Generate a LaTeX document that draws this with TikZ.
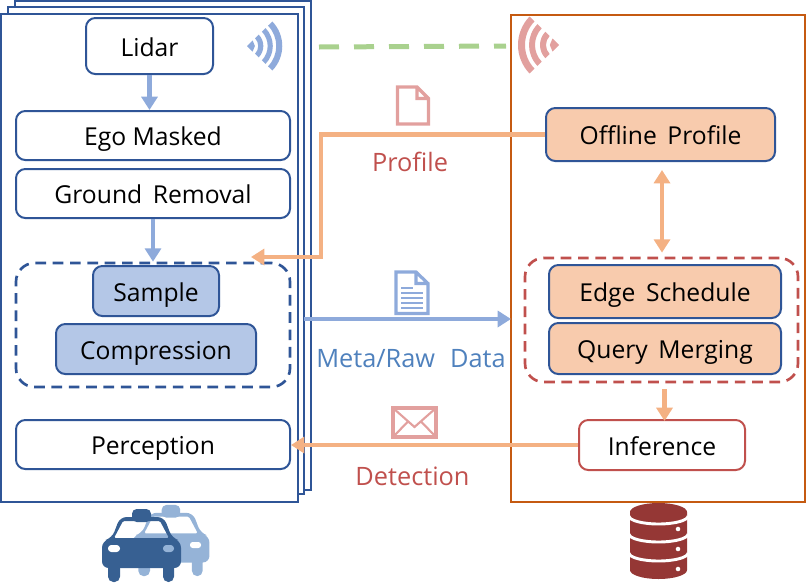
\documentclass[tikz,border=0pt]{standalone}
\usepackage{fontspec}
\setmainfont{Open Sans}
\usetikzlibrary{arrows.meta,calc}
\definecolor{navy}{HTML}{2F5597}
\definecolor{orangeline}{HTML}{C55A11}
\definecolor{softblue}{HTML}{8EAADB}
\definecolor{softorange}{HTML}{F4B183}
\definecolor{fillblue}{HTML}{B4C7E7}
\definecolor{fillorange}{HTML}{F8CBAD}
\definecolor{redline}{HTML}{C0504D}
\definecolor{softred}{HTML}{E2A09E}
\definecolor{softgreen}{HTML}{A9D18E}
\definecolor{textblue}{HTML}{4F81BD}
\definecolor{cardark}{HTML}{376092}
\definecolor{carlight}{HTML}{95B3D7}
\definecolor{dbred}{HTML}{953735}
\tikzset{
  x=0.75pt,y=-0.75pt,
  lab/.style={font=\fontsize{18.5pt}{22pt}\selectfont,text height=15.5pt,text depth=0.5pt},
  box/.style={draw=navy,line width=1.5pt,rounded corners=7pt,fill=white,inner sep=0pt,lab},
  bluebox/.style={box,fill=fillblue},
  orangebox/.style={box,fill=fillorange},
  redbox/.style={box,draw=redline},
  group/.style={rounded corners=14pt,line width=2pt,dash pattern=on 8pt off 5pt,inner sep=0pt},
  sheet/.style={draw=navy,line width=1.5pt,fill=white},
  bluearrow/.style={draw=softblue,line width=3.6pt,-{Triangle[length=10pt,width=12pt]}},
  orangearrow/.style={draw=softorange,line width=3.6pt,-{Triangle[length=10pt,width=12pt]}},
  orangedouble/.style={draw=softorange,line width=3.6pt,{Triangle[length=10pt,width=12pt]}-{Triangle[length=10pt,width=12pt]}},
  caption/.style={font=\fontsize{19pt}{22pt}\selectfont,text height=14.5pt,text depth=0.5pt,inner sep=0pt},
}
\newcommand{\wifi}[5]{% apex x, apex y, direction angle, scale, colour
  \begin{scope}[shift={(#1,#2)},rotate=#3,scale=#4]
    \fill[#5] (0,0) -- (6.5,-6.5) -- (9.2,0) -- (6.5,6.5) -- cycle;
    \foreach \ri/\ro in {13/19,24/30,34/41}{
      \fill[#5] (-44:\ri) arc[start angle=-44,end angle=44,radius=\ri] -- (44:\ro) arc[start angle=44,end angle=-44,radius=\ro] -- cycle;
    }
  \end{scope}}
% car drawn in the coordinates of the front car; #1 #2 shift, #3 scale, #4 colour
\newcommand{\car}[4]{%
  \begin{scope}[shift={(#1,#2)},scale=#3]
    \fill[#4,rounded corners=4pt] (108,555) rectangle (120,582);
    \fill[#4,rounded corners=4pt] (163,555) rectangle (174,582);
    \fill[#4,rounded corners=3.5pt] (132,509) rectangle (151,522);
    \fill[#4,even odd rule,rounded corners=5pt]
      (102,568) -- (102,541) -- (112,538) -- (120,517) -- (164,517) -- (172,538) -- (181,541) -- (181,568) -- cycle
      [rounded corners=1pt] (114,538) -- (123,521) -- (160,521) -- (169,538) -- cycle;
  \end{scope}}
\begin{document}
\begin{tikzpicture}
\useasboundingbox (0,0) rectangle (811,586);
% stacked sheets
\draw[sheet] (15,1) rectangle (311,490);
\draw[sheet] (8,7) rectangle (304,494);
\node[sheet,minimum width=222.75pt,minimum height=366pt,inner sep=0pt] (carsheet) at (149.5,258) {};
% server panel
\node[draw=orangeline,line width=1.5pt,minimum width=220.5pt,minimum height=365.25pt,inner sep=0pt] (server) at (658,258.5) {};
% groups
\node[group,draw=navy,minimum width=205.5pt,minimum height=93pt] (leftgroup) at (153,325) {};
\node[group,draw=redline,minimum width=204.75pt,minimum height=93pt] (rightgroup) at (661.5,320) {};
% boxes
\node[box,minimum width=95.25pt,minimum height=42pt] (lidar) at (149.5,46) {Lidar};
\node[box,minimum width=205.5pt,minimum height=36.75pt] (ego) at (153,135.5) {Ego Masked};
\node[box,minimum width=205.5pt,minimum height=36.75pt] (ground) at (153,193.5) {Ground\, Removal};
\node[bluebox,minimum width=94.5pt,minimum height=37.5pt] (sample) at (156,291) {Sample};
\node[bluebox,minimum width=150pt,minimum height=37.5pt] (compress) at (156,349) {Compression};
\node[box,minimum width=205.5pt,minimum height=36.75pt] (percept) at (153,444.5) {Perception};
\node[orangebox,minimum width=171.75pt,minimum height=39.75pt] (offline) at (660.5,134.5) {Offline\, Profile};
\node[orangebox,minimum width=174pt,minimum height=39.75pt] (edge) at (665,291.5) {Edge\, Schedule};
\node[orangebox,minimum width=174pt,minimum height=38.25pt] (query) at (665,348.5) {Query\, Merging};
\node[redbox,minimum width=124.5pt,minimum height=37.5pt] (infer) at (662,445) {Inference};
% coordinates
\coordinate (gl) at (319,47);
\coordinate (gr) at (506,46);
\coordinate (corner2) at (321,257);
\coordinate (tipL) at (251,257);
\coordinate (metaS) at (304,319);
\coordinate (metaE) at (511,319);
% connectors
\draw[softgreen,line width=3.75pt,dash pattern=on 15pt off 11.25pt] (gl) -- (gr);
\draw[bluearrow] (lidar.south) -- (ego.north -| lidar.south);
\draw[bluearrow] (ground.south) -- (leftgroup.north);
\draw[bluearrow] (metaS) -- (metaE);
\draw[orangearrow] (offline.west) -| (corner2) -- (tipL);
\draw[orangedouble] ($(offline.south)+(1.5,8)$) -- ($(rightgroup.north)+(0.5,-4)$);
\draw[orangearrow] (664.5,389) -- (664.5,421);
\draw[orangearrow] (infer.west) -- (infer.west -| percept.east);
% wifi
\wifi{247}{46}{0}{0.86}{softblue}
\wifi{559}{45}{180}{1}{softred}
% documents
\draw[softred,line width=2.4pt,line join=miter] (397.5,87) -- (417,87) -- (428.5,98.5) -- (428.5,124) -- (397.5,124) -- cycle (417,87) -- (417,98.5) -- (428.5,98.5);
\draw[softblue,line width=2.4pt] (396,272) -- (416,272) -- (428,283.5) -- (428,313.5) -- (396,313.5) -- cycle (416,272) -- (416,283.5) -- (428,283.5);
\draw[softblue,line width=1.4pt] (401,288) -- (413,288) (401,293) -- (423,293) (401,298) -- (423,298) (401,303) -- (423,303) (401,308) -- (423,308);
\draw[softred,line width=2.4pt] (393,408) rectangle (436,437);
\draw[softred,line width=1.6pt] (393,408) -- (414.5,427) -- (436,408) (393,437) -- (408,421.5) (436,437) -- (421,421.5);
% captions
\node[caption,text=redline] (profile) at (410,162.5) {Profile};
\node[caption,text=textblue] (meta) at (411,358) {Meta/Raw\,\, Data};
\node[caption,text=redline] (detect) at (412.5,476) {Detection};
% cars
\car{33}{8.7}{0.975}{carlight}
\fill[white,rounded corners=2pt] (190,542) rectangle (201,548);
\car{0}{0}{1}{cardark}
\fill[white,rounded corners=2.5pt] (108,545) rectangle (120,552);
\fill[carlight,rounded corners=2.5pt] (163,545) rectangle (174,552);
% database
\begin{scope}
  \fill[dbred] (630,512) arc[start angle=180,end angle=360,x radius=28.5,y radius=9] -- (687,570) arc[start angle=0,end angle=180,x radius=28.5,y radius=9] -- cycle;
  \draw[white,line width=2.2pt] (629,516) arc[start angle=180,end angle=0,x radius=29.5,y radius=8];
  \draw[white,line width=2.2pt] (629,534) arc[start angle=180,end angle=0,x radius=29.5,y radius=8];
  \draw[white,line width=2.2pt] (629,553) arc[start angle=180,end angle=0,x radius=29.5,y radius=8];
  \fill[white] (678,529) circle (1.7pt) (678,549) circle (1.7pt) (678,569) circle (1.7pt);
\end{scope}
\end{tikzpicture}
\end{document}
